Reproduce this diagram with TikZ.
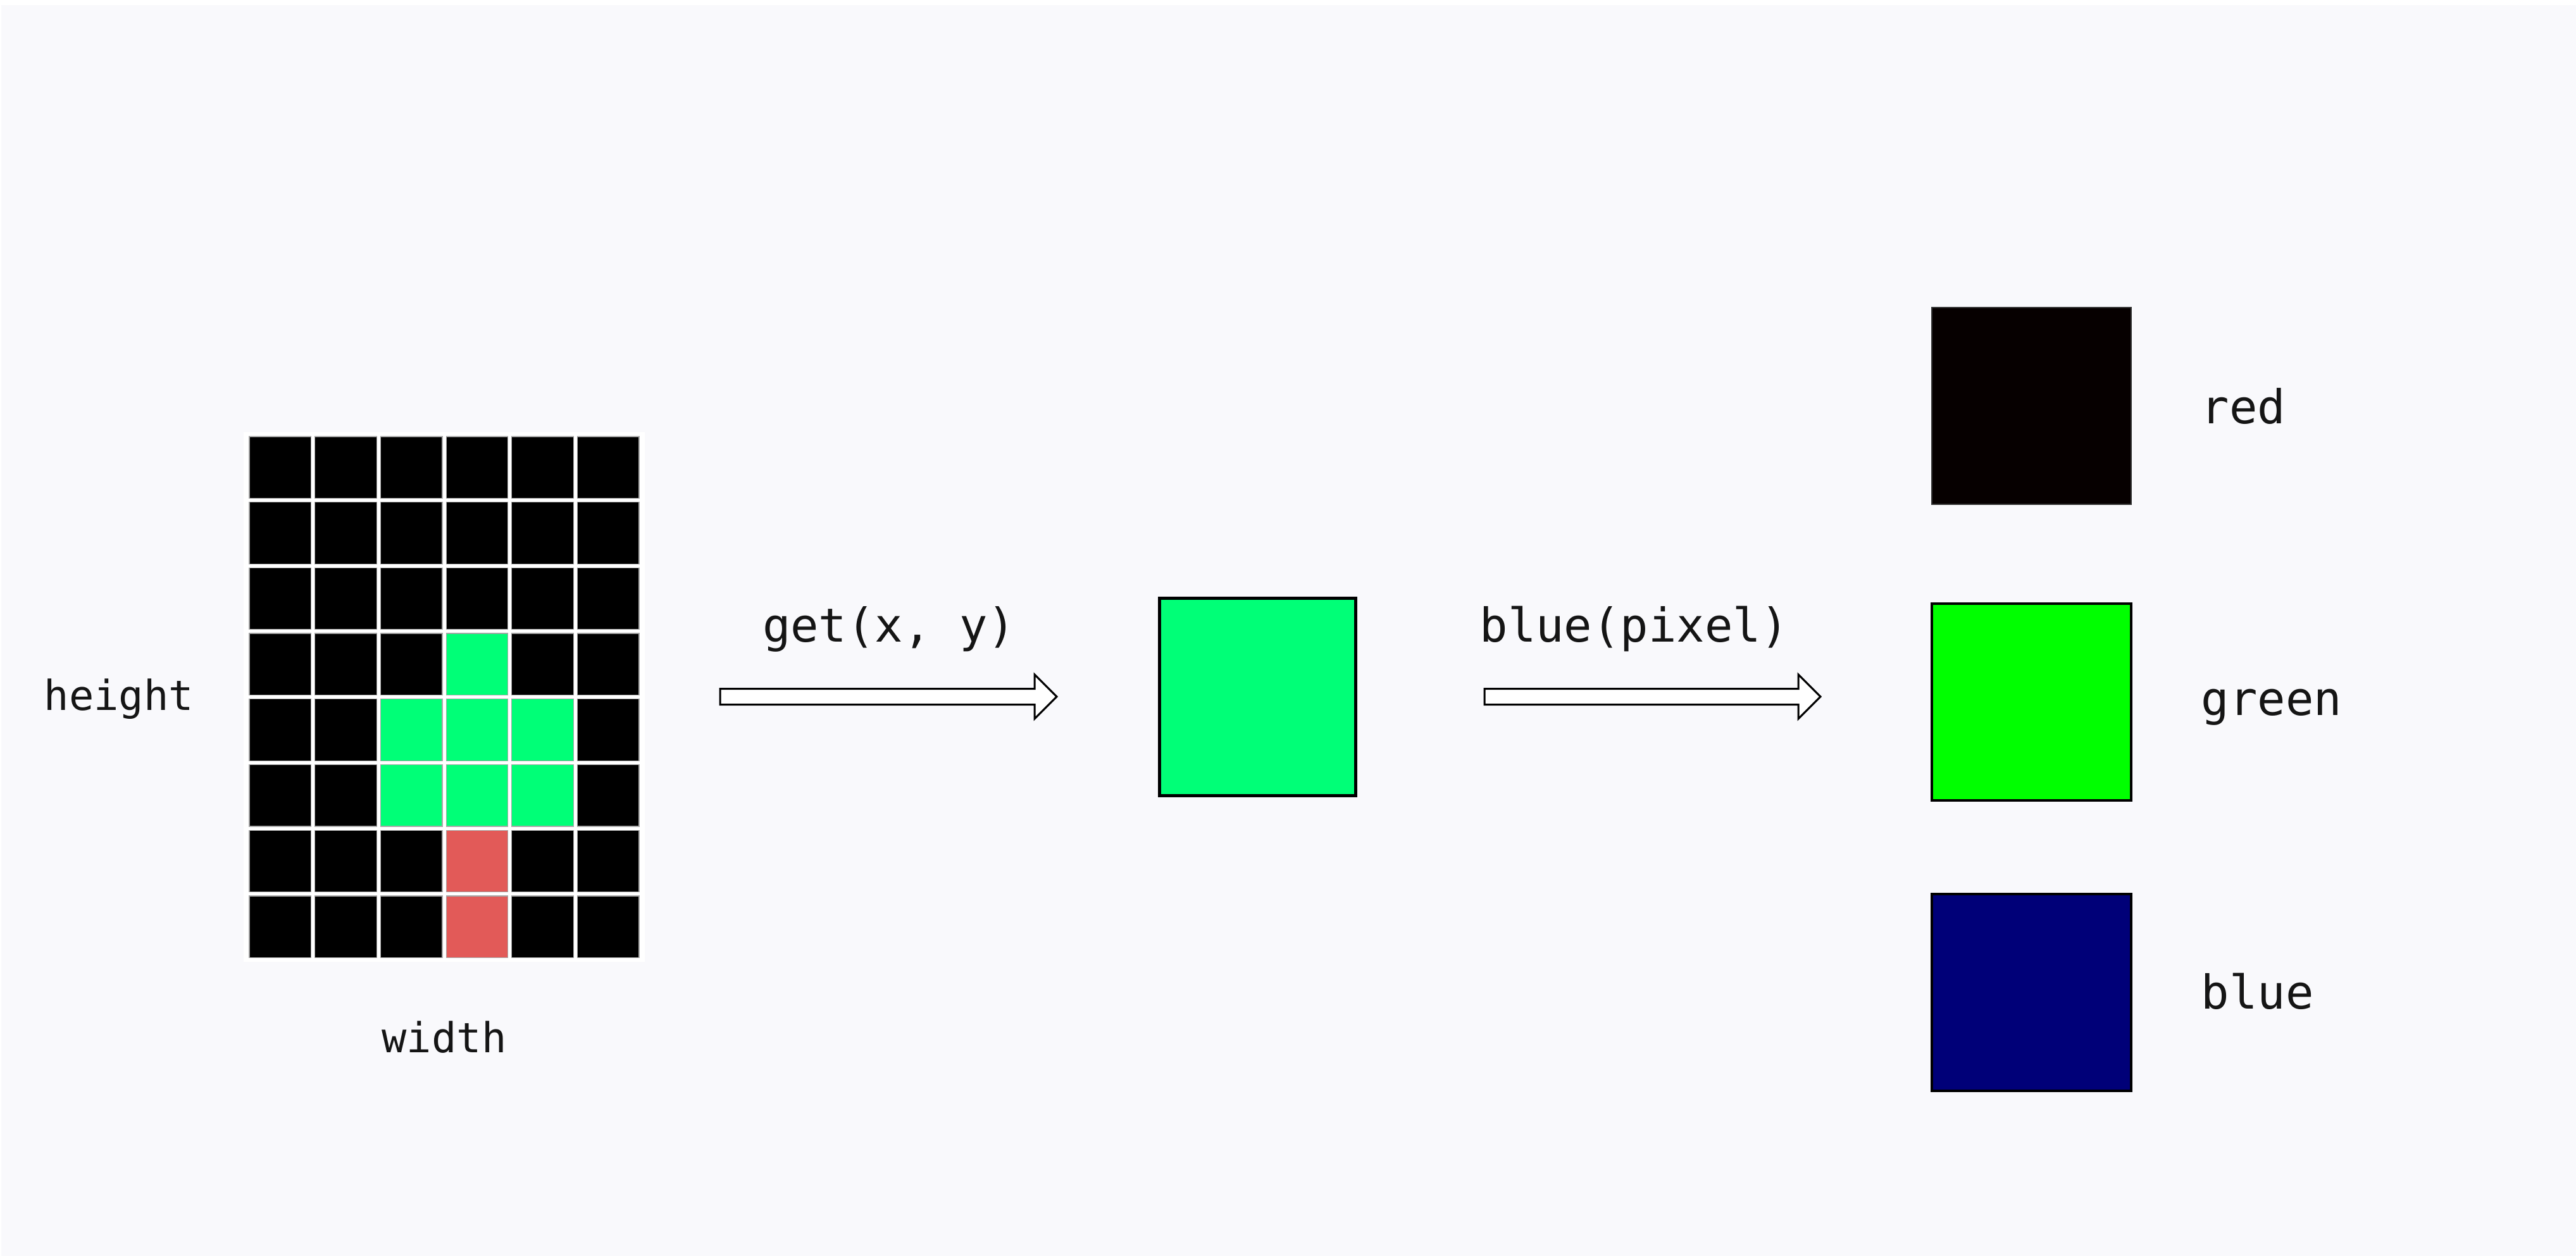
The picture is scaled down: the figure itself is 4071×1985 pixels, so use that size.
\documentclass[tikz,border=0pt]{standalone}
\usepackage{fontspec}
\newfontfamily\codefont{DejaVu Sans Mono}
\usetikzlibrary{calc}
\definecolor{bgpaper}{HTML}{F9F9FC}
\definecolor{pixgreen}{HTML}{00FF77}
\definecolor{pixred}{HTML}{E25A58}
\definecolor{chanred}{HTML}{060000}
\definecolor{changreen}{HTML}{00FF00}
\definecolor{chanblue}{HTML}{000078}
\definecolor{ink}{HTML}{151515}
\begin{document}
\begin{tikzpicture}[x=0.1mm,y=-0.1mm,
  codetext/.style={font=\codefont\fontsize{21}{25}\selectfont, text=ink, inner sep=0pt},
  smalltext/.style={font=\codefont\fontsize{18.6}{22}\selectfont, text=ink, inner sep=0pt},
  blockarrow/.style={draw=black, fill=white, line width=0.3mm, line join=miter},
  pixcell/.style={draw=gray!70, line width=0.12mm},
  swatch/.style={draw=black, line width=0.4mm, inner sep=0pt,
    minimum width=31.5mm, minimum height=31.1mm}]
\useasboundingbox (0,0) rectangle (4071,1985);
\fill[white] (0,0) rectangle (4071,1985);
\fill[bgpaper] (2,8) rectangle (4071,1985);

% the 6 x 8 pixel image
\fill[white] (385,683) rectangle (1019,1520);
\foreach \r in {0,...,7}
  \foreach \c in {0,...,5}
    \filldraw[pixcell, fill=black] ({394+103.7*\c},{690+103.7*\r}) rectangle ++(97.5,97.5);
\foreach \c/\r/\col in {3/3/pixgreen, 2/4/pixgreen, 3/4/pixgreen, 4/4/pixgreen,
                        2/5/pixgreen, 3/5/pixgreen, 4/5/pixgreen,
                        3/6/pixred, 3/7/pixred}
  \filldraw[pixcell, fill=\col] ({394+103.7*\c},{690+103.7*\r}) rectangle ++(97.5,97.5);

\node[smalltext, anchor=base] (height) at (188,1123) {height};
\node[smalltext, anchor=base] (width) at (702,1663) {width};

% get(x, y) arrow
\coordinate (getfrom) at (1138,1101);
\coordinate (getto) at (1670,1101);
\draw[blockarrow] ($(getfrom)+(0,-12.5)$) -- ($(getto)+(-35,-12.5)$) -- ($(getto)+(-35,-35)$)
  -- (getto) -- ($(getto)+(-35,35)$) -- ($(getto)+(-35,12.5)$) -- ($(getfrom)+(0,12.5)$) -- cycle;
\node[codetext, anchor=base] (getlbl) at (1405,1015) {get(x, y)};

% the selected pixel
\node[draw=black, fill=pixgreen, line width=0.5mm, inner sep=0pt,
  minimum width=31mm, minimum height=31.2mm] (pixel) at (1987.5,1101.5) {};

% blue(pixel) arrow
\coordinate (chanfrom) at (2346,1101);
\coordinate (chanto) at (2877,1101);
\draw[blockarrow] ($(chanfrom)+(0,-12.5)$) -- ($(chanto)+(-35,-12.5)$) -- ($(chanto)+(-35,-35)$)
  -- (chanto) -- ($(chanto)+(-35,35)$) -- ($(chanto)+(-35,12.5)$) -- ($(chanfrom)+(0,12.5)$) -- cycle;
\node[codetext, anchor=base] (chanlbl) at (2583,1015) {blue(pixel)};

% channel swatches
\node[swatch, fill=chanred, draw=black!80, line width=0.2mm] (redsw) at (3210.5,641.5) {};
\node[swatch, fill=changreen] (greensw) at (3210.5,1109.5) {};
\node[swatch, fill=chanblue] (bluesw) at (3210.5,1568.5) {};

\node[codetext, anchor=base west] (redlbl) at (3478,670) {red};
\node[codetext, anchor=base west] (greenlbl) at (3478,1130) {green};
\node[codetext, anchor=base west] (bluelbl) at (3478,1594) {blue};
\end{tikzpicture}
\end{document}
